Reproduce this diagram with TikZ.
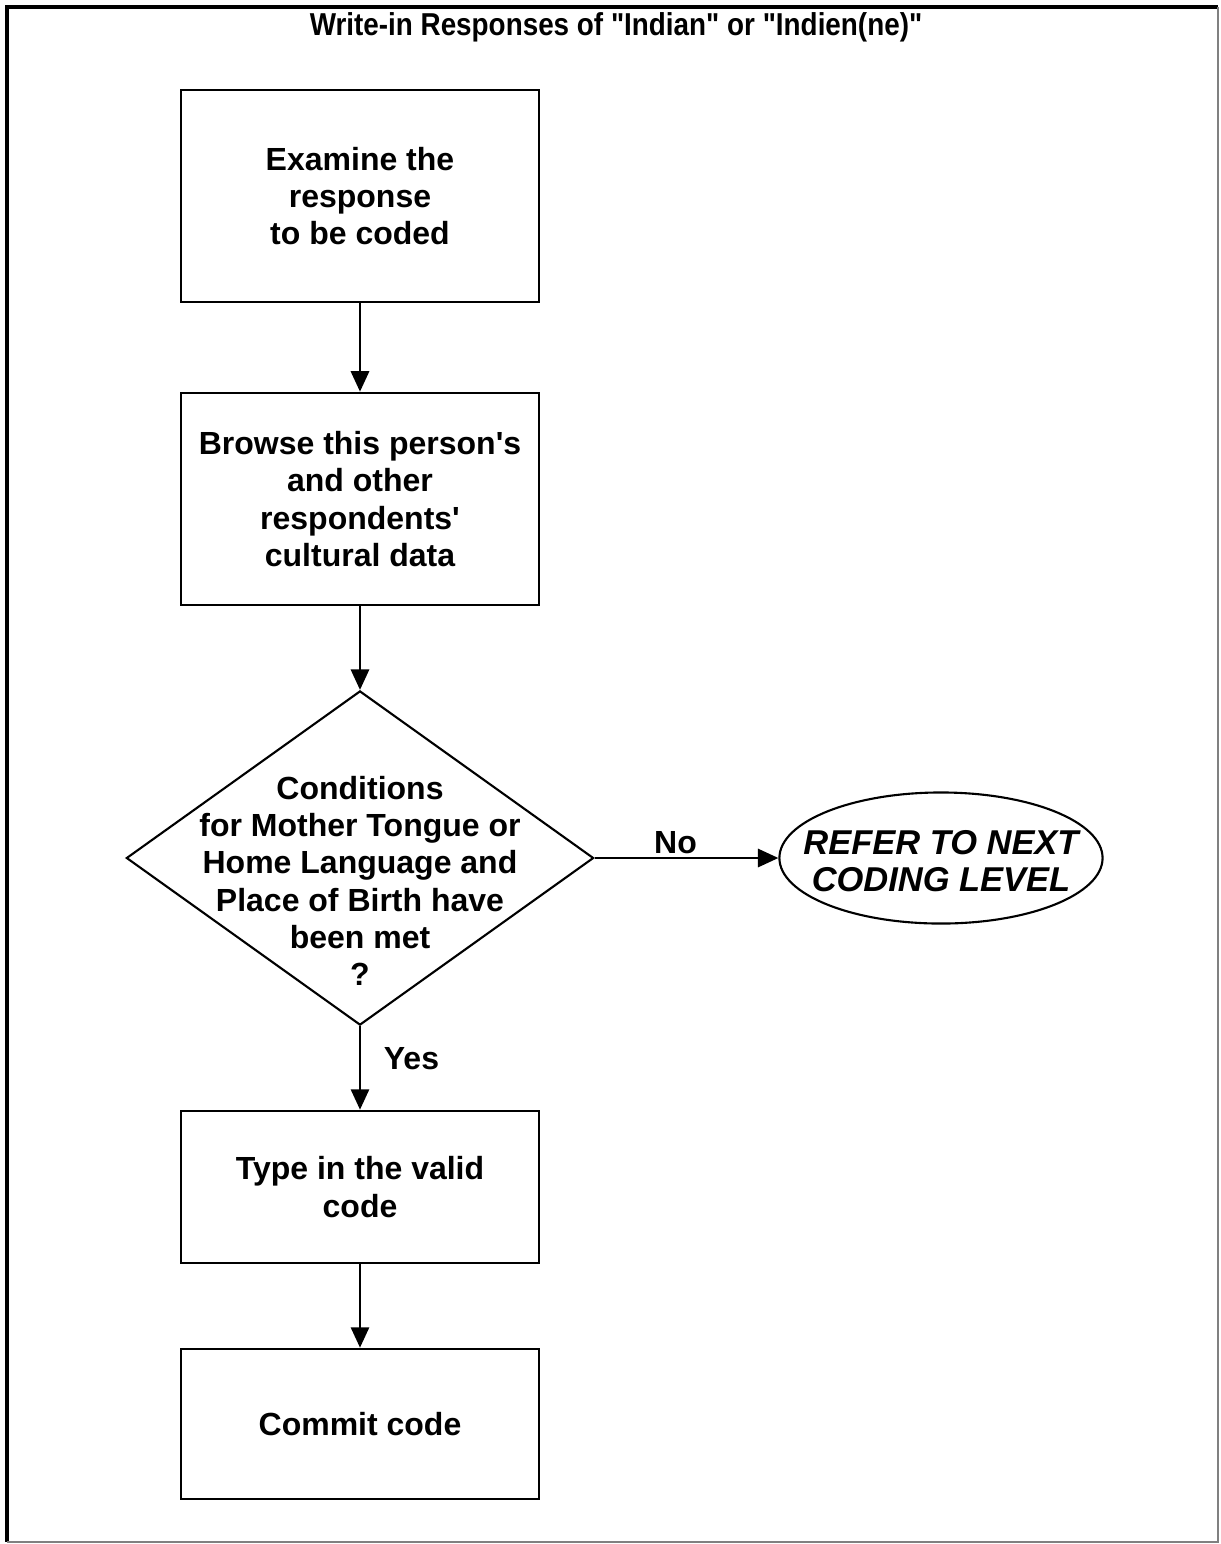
\documentclass[tikz,border=0pt]{standalone}
\usepackage{fontspec}
\setmainfont{Liberation Sans}
\usepackage{graphicx}
\usetikzlibrary{shapes.geometric,arrows.meta}

\begin{document}
\begin{tikzpicture}[x=0.01cm, y=-0.01cm,
  stepbox/.style={draw, line width=0.75pt, minimum width=3.58cm, inner sep=0pt},
  boxtext/.style={font=\bfseries\fontsize{9.1}{10.6}\selectfont, align=center},
  flow/.style={line width=0.6pt, -{Triangle[length=5.8pt, width=5.2pt]}}]
  \useasboundingbox (0,0) rectangle (1220,1544);
  \draw[line width=1pt] (1218,7) -- (7,7) -- (7,1542);
  \draw[gray, line width=0.6pt] (1218,7) -- (1218,1542) -- (7,1542);
  \node[font=\bfseries\fontsize{9}{10}\selectfont] (title) at (616,27) {\scalebox{0.88}[1]{Write-in Responses of \textquotedbl Indian\textquotedbl{} or \textquotedbl Indien(ne)\textquotedbl}};
  \node[stepbox, boxtext, minimum height=2.12cm] (examine) at (360,196) {Examine the\\response\\to be coded};
  \node[stepbox, boxtext, minimum height=2.12cm] (browse) at (360,499) {Browse this person\textquotesingle s\\and other\\respondents\textquotesingle\\cultural data};
  \node[draw, diamond, line width=0.6pt, minimum width=4.67cm, minimum height=3.34cm, inner sep=0pt] (cond) at (360,858) {};
  \node[boxtext] (condtext) at (360,881) {Conditions\\for Mother Tongue or\\Home Language and\\Place of Birth have\\been met\\?};
  \node[draw, ellipse, line width=0.6pt, minimum width=3.23cm, minimum height=1.31cm, inner sep=0pt] (refer) at (941,858) {};
  \node[font=\bfseries\itshape\fontsize{9.8}{10.5}\selectfont, align=center] (refertext) at (941,861) {REFER TO NEXT\\CODING LEVEL};
  \node[stepbox, boxtext, minimum height=1.52cm] (typein) at (360,1187) {Type in the valid\\code};
  \node[stepbox, boxtext, minimum height=1.50cm] (commit) at (360,1424) {Commit code};
  \draw[flow] (examine) -- (browse);
  \draw[flow] (browse) -- (cond);
  \draw[flow] (cond.east) -- node[boxtext, pos=0.44, above=1pt, inner sep=0pt] (no) {No} (refer.west);
  \draw[flow] (cond.south) -- node[boxtext, pos=0.39, right=6.5pt, inner sep=0pt] (yes) {Yes} (typein.north);
  \draw[flow] (typein) -- (commit);
\end{tikzpicture}
\end{document}
